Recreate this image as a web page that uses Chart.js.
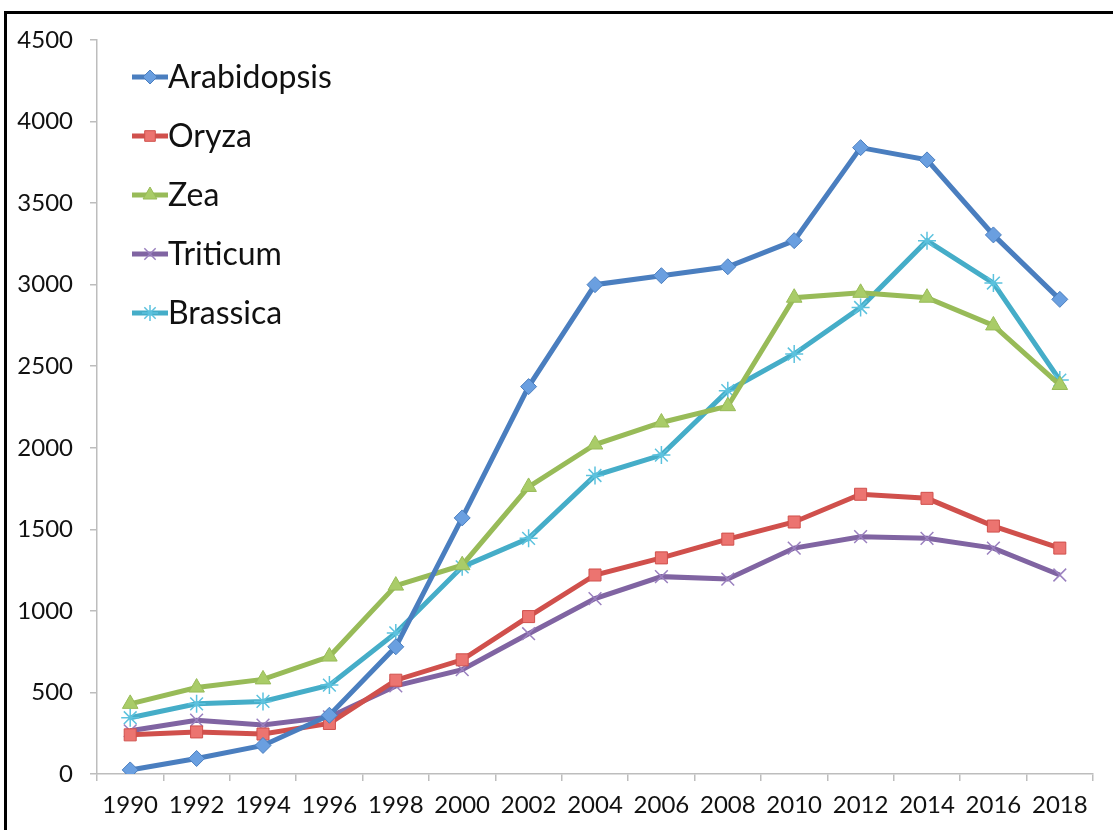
<!DOCTYPE html>
<html>
<head>
<meta charset="utf-8">
<script src="https://cdn.jsdelivr.net/npm/chart.js@4/dist/chart.umd.min.js"></script>
<style>
  html, body { margin:0; padding:0; background:#fff; }
  #wrap { position:relative; width:1113px; height:830px; overflow:hidden; }
  #frame { position:absolute; left:4px; top:11px; width:1200px; height:900px; border-left:3px solid #000; border-top:3px solid #000; }
  canvas { position:absolute; left:0; top:0; }
</style>
</head>
<body>
<div id="wrap">
  <div id="frame"></div>
  <canvas id="chart" width="1113" height="830"></canvas>
</div>
<script>
(function(){
  const years = ['1990','1992','1994','1996','1998','2000','2002','2004','2006','2008','2010','2012','2014','2016','2018'];
  const arabidopsis = [25, 95, 175, 360, 780, 1570, 2375, 3000, 3055, 3110, 3270, 3840, 3765, 3305, 2910];
  const oryza       = [240, 258, 245, 310, 575, 700, 965, 1220, 1325, 1440, 1545, 1715, 1690, 1520, 1385];
  const zea         = [430, 530, 580, 720, 1155, 1280, 1760, 2020, 2155, 2255, 2920, 2950, 2920, 2750, 2385];
  const triticum    = [265, 330, 300, 350, 540, 640, 860, 1075, 1210, 1195, 1385, 1455, 1445, 1385, 1220];
  const brassica    = [345, 430, 445, 545, 865, 1270, 1445, 1830, 1955, 2350, 2575, 2860, 3270, 3010, 2415];

  const FONT = 'Lato, "Open Sans", sans-serif';

  function series(label, data, line, fill, style, radius){
    const stroked = (style === 'crossRot' || style === 'star');
    return {
      label, data,
      borderColor: line,
      borderWidth: 5,
      pointStyle: style,
      pointRadius: radius,
      pointBackgroundColor: fill,
      pointBorderColor: stroked ? fill : line,
      pointBorderWidth: stroked ? 1.5 : 1,
      tension: 0
    };
  }

  const datasets = [
    series('Arabidopsis', arabidopsis, '#4a7ebf', '#6a9fe0', 'rectRot', 8),
    series('Oryza', oryza, '#d0504c', '#ec7470', 'rect', 8.5),
    series('Zea', zea, '#98bb58', '#a9cc68', 'triangle', 9),
    series('Triticum', triticum, '#8064a2', '#9a80bf', 'crossRot', 9),
    series('Brassica', brassica, '#45adc8', '#5cc2de', 'star', 9)
  ];

  // legend drawn inside the plot, top-left
  const insideLegend = {
    id: 'insideLegend',
    afterDatasetsDraw(chart){
      const ctx = chart.ctx;
      const area = chart.chartArea;
      const helpers = Chart.helpers;
      ctx.save();
      ctx.font = '32px ' + FONT;
      ctx.textBaseline = 'middle';
      chart.data.datasets.forEach((ds, i) => {
        const y = area.top + 37 + i * 59;
        const x0 = area.left + 35;
        ctx.strokeStyle = ds.borderColor;
        ctx.lineWidth = 5;
        ctx.beginPath();
        ctx.moveTo(x0, y);
        ctx.lineTo(x0 + 36, y);
        ctx.stroke();
        ctx.fillStyle = ds.pointBackgroundColor;
        ctx.strokeStyle = ds.pointBorderColor;
        ctx.lineWidth = ds.pointBorderWidth;
        if (helpers && helpers.drawPoint) {
          helpers.drawPoint(ctx, { pointStyle: ds.pointStyle, radius: ds.pointRadius - 1, rotation: 0, borderWidth: ds.pointBorderWidth }, x0 + 18, y);
        }
        ctx.fillStyle = '#111';
        ctx.fillText(ds.label, x0 + 36, y + 1);
      });
      ctx.restore();
    }
  };

  new Chart(document.getElementById('chart'), {
    type: 'line',
    data: { labels: years, datasets },
    options: {
      responsive: false,
      animation: false,
      layout: { padding: { top: 40, right: 20, left: 0, bottom: 0 } },
      plugins: { legend: { display: false }, tooltip: { enabled: false } },
      scales: {
        x: {
          offset: true,
          grid: { offset: true, drawOnChartArea: false, color: '#bdbdbd', tickLength: 7, lineWidth: 1.5 },
          border: { color: '#bdbdbd', width: 1.5 },
          ticks: { color: '#111', font: { family: FONT, size: 24 }, padding: 10, maxRotation: 0, autoSkip: false },
          afterFit(s){ s.height = 56; }
        },
        y: {
          min: 0, max: 4500,
          grid: { drawOnChartArea: false, color: '#bdbdbd', tickLength: 7, lineWidth: 1.5 },
          border: { color: '#bdbdbd', width: 1.5 },
          ticks: { stepSize: 500, color: '#111', font: { family: FONT, size: 24 }, padding: 17,
                   callback: v => String(v) },
          afterFit(s){ s.width = 97; }
        }
      }
    },
    plugins: [insideLegend]
  });
})();
</script>
</body>
</html>
